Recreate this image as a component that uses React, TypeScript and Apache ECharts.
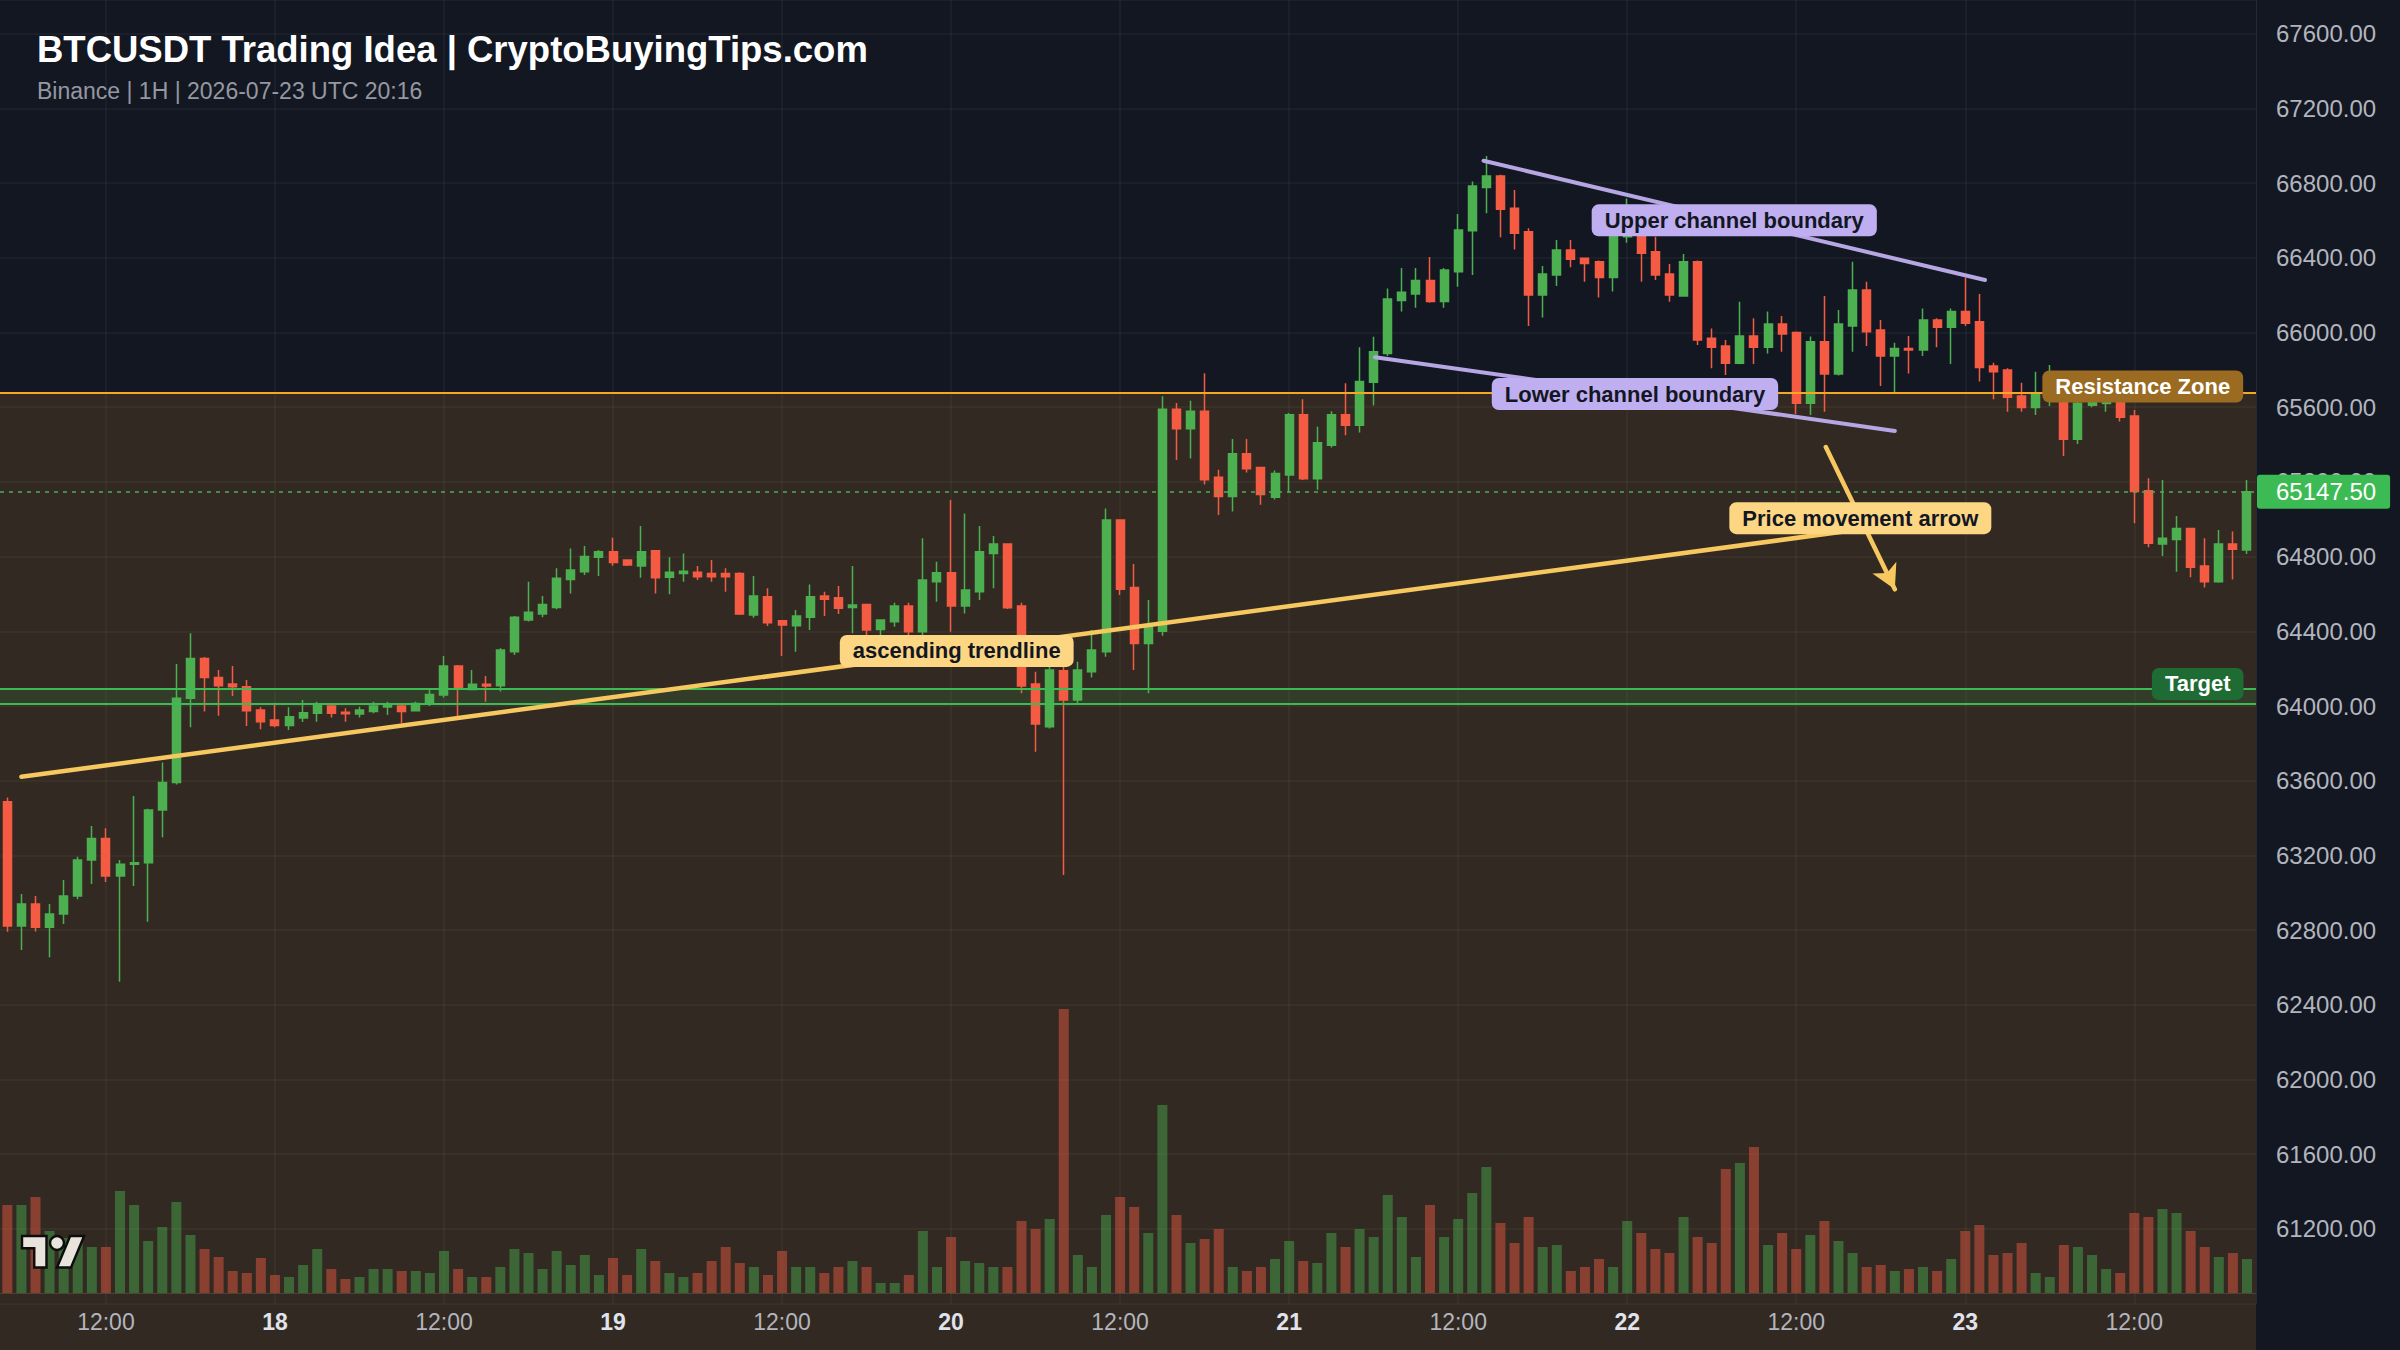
import React, { useEffect, useRef } from 'react';
import * as echarts from 'echarts';

// ---------- DATA ----------
// hours since 2026-07-17 00:00 UTC (1H candles, 17th 05:00 -> 23rd 20:00)
const hours = Array.from({ length: 160 }, (_, i) => 5 + i);

const open = [
  63487, 62822, 62940, 62815, 62886, 62982, 63175, 63291, 63090, 63152,
  63161, 63443, 63591, 64041, 64255, 64153, 64118, 64103, 63979, 63925,
  63896, 63936, 63961, 64000, 63966, 63957, 63970, 63995, 64000, 63975,
  64011, 64059, 64214, 64089, 64116, 64109, 64291, 64460, 64493, 64528,
  64678, 64719, 64796, 64826, 64782, 64750, 64832, 64689, 64710, 64716,
  64710, 64710, 64710, 64487, 64585, 64457, 64430, 64475, 64589, 64580,
  64528, 64544, 64410, 64451, 64535, 64398, 64666, 64714, 64535, 64612,
  64817, 64867, 64535, 64118, 63889, 64189, 64032, 64184, 64291, 64996,
  64635, 64335, 64400, 65589, 65484, 65579, 65225, 65122, 65351, 65277,
  65118, 65237, 65559, 65217, 65396, 65559, 65504, 65734, 65887, 66172,
  66206, 66279, 66166, 66326, 66545, 66777, 66838, 66665, 66540, 66201,
  66308, 66442, 66397, 66379, 66295, 66513, 66640, 66433, 66313, 66195,
  66379, 65969, 65928, 65835, 65981, 65921, 66045, 66000, 65621, 65951,
  65778, 66035, 66228, 66013, 65874, 65915, 65906, 66067, 66028, 66112,
  66058, 65821, 65799, 65660, 65599, 65660, 65650, 65428, 65610, 65620,
  65640, 65553, 65153, 64868, 64892, 64951, 64750, 64666, 64868, 64835,
];
const high = [
  63510, 62993, 62982, 62940, 63068, 63193, 63357, 63345, 63175, 63518,
  63450, 63697, 64225, 64389, 64262, 64193, 64214, 64139, 63993, 64018,
  63993, 64032, 64023, 64005, 63988, 63996, 64023, 64023, 64005, 64023,
  64095, 64268, 64220, 64193, 64161, 64309, 64482, 64666, 64589, 64737,
  64844, 64857, 64835, 64901, 64786, 64964, 64835, 64796, 64817, 64750,
  64782, 64737, 64716, 64696, 64630, 64460, 64514, 64651, 64612, 64642,
  64750, 64548, 64465, 64553, 64553, 64898, 64773, 65103, 65031, 64964,
  64910, 64872, 64553, 64184, 64219, 64210, 64237, 64407, 65058, 65000,
  64760, 64567, 65659, 65623, 65635, 65782, 65265, 65430, 65430, 65280,
  65261, 65569, 65643, 65496, 65579, 65728, 65921, 65977, 66235, 66345,
  66345, 66404, 66345, 66635, 66808, 66945, 66845, 66763, 66558, 66356,
  66495, 66495, 66400, 66385, 66540, 66718, 66660, 66513, 66367, 66420,
  66385, 66022, 65960, 66165, 66076, 66112, 66088, 66005, 65978, 66195,
  66120, 66379, 66272, 66067, 65945, 65981, 66129, 66076, 66129, 66295,
  66206, 65838, 65808, 65731, 65790, 65826, 65700, 65640, 65680, 65670,
  65700, 65585, 65219, 65210, 65017, 64955, 64898, 64942, 64934, 65210,
];
const low = [
  62791, 62694, 62792, 62654, 62833, 62965, 63047, 63057, 62524, 63036,
  62845, 63297, 63580, 63886, 63970, 63948, 64053, 63893, 63875, 63886,
  63872, 63914, 63916, 63939, 63916, 63939, 63961, 63952, 63907, 63970,
  64000, 64045, 63946, 64086, 64023, 64077, 64273, 64452, 64475, 64518,
  64603, 64701, 64696, 64751, 64750, 64687, 64603, 64598, 64666, 64675,
  64666, 64612, 64487, 64473, 64428, 64268, 64291, 64407, 64482, 64493,
  64389, 64380, 64371, 64425, 64371, 64371, 64558, 64398, 64496, 64567,
  64630, 64520, 64068, 63755, 63880, 63095, 64005, 64153, 64264, 64594,
  64193, 64068, 64376, 65317, 65325, 65186, 65023, 65042, 65251, 65078,
  65106, 65142, 65210, 65158, 65384, 65450, 65464, 65609, 65874, 66112,
  66132, 66160, 66132, 66245, 66308, 66638, 66510, 66445, 66035, 66081,
  66249, 66349, 66272, 66188, 66219, 66480, 66272, 66281, 66165, 66192,
  65933, 65808, 65773, 65830, 65831, 65888, 65897, 65564, 65558, 65576,
  65770, 65897, 65928, 65713, 65671, 65781, 65874, 65921, 65831, 66035,
  65737, 65642, 65576, 65576, 65558, 65607, 65339, 65403, 65600, 65576,
  65523, 64978, 64850, 64803, 64719, 64689, 64635, 64660, 64678, 64814,
];
const close = [
  62822, 62940, 62815, 62886, 62982, 63175, 63291, 63090, 63152, 63161,
  63443, 63591, 64041, 64255, 64153, 64109, 64103, 63975, 63916, 63896,
  63943, 63964, 64009, 63961, 63958, 63979, 64000, 64005, 63970, 64014,
  64062, 64214, 64098, 64116, 64107, 64300, 64475, 64502, 64544, 64684,
  64728, 64800, 64826, 64769, 64755, 64826, 64687, 64716, 64721, 64692,
  64692, 64692, 64492, 64589, 64446, 64434, 64482, 64585, 64571, 64523,
  64541, 64407, 64460, 64535, 64398, 64675, 64714, 64535, 64621, 64826,
  64867, 64526, 64107, 63903, 64193, 64032, 64193, 64300, 64996, 64625,
  64335, 64425, 65589, 65484, 65579, 65211, 65122, 65351, 65271, 65132,
  65245, 65559, 65217, 65410, 65559, 65504, 65738, 65897, 66180, 66216,
  66279, 66166, 66335, 66549, 66784, 66838, 66660, 66531, 66201, 66313,
  66442, 66392, 66370, 66295, 66513, 66640, 66424, 66308, 66201, 66379,
  65960, 65921, 65835, 65981, 65921, 66045, 65992, 65621, 65951, 65778,
  66045, 66228, 66004, 65874, 65915, 65906, 66067, 66028, 66112, 66049,
  65813, 65790, 65653, 65599, 65678, 65690, 65428, 65621, 65635, 65640,
  65546, 65148, 64871, 64898, 64951, 64743, 64666, 64868, 64839, 65147.5,
];
const volume = [
  440, 440, 480, 310, 275, 250, 230, 230, 510, 440,
  260, 330, 455, 290, 220, 180, 110, 100, 175, 90,
  80, 140, 220, 120, 70, 80, 120, 120, 110, 110,
  100, 210, 120, 80, 80, 130, 220, 200, 120, 210,
  140, 190, 90, 175, 90, 220, 160, 100, 80, 100,
  160, 230, 150, 130, 90, 210, 130, 130, 100, 130,
  160, 130, 50, 50, 90, 310, 130, 280, 160, 150,
  130, 130, 360, 320, 370, 1420, 190, 130, 390, 480,
  430, 300, 940, 390, 250, 270, 320, 130, 110, 130,
  170, 260, 160, 150, 300, 230, 320, 280, 490, 380,
  180, 440, 280, 370, 500, 630, 350, 250, 380, 230,
  240, 110, 130, 170, 130, 360, 300, 220, 200, 380,
  280, 250, 620, 650, 730, 240, 300, 220, 290, 360,
  260, 200, 130, 140, 110, 120, 130, 110, 170, 310,
  340, 190, 200, 250, 100, 80, 240, 230, 190, 120,
  100, 400, 380, 420, 400, 310, 230, 180, 200, 170,
];

const xTickHours = [12, 24, 36, 48, 60, 72, 84, 96, 108, 120, 132, 144, 156];
const xTickLabels = ['12:00', '18', '12:00', '19', '12:00', '20', '12:00', '21', '12:00', '22', '12:00', '23', '12:00'];

const resistanceLevel = 65680;
const targetZone = [64010, 64090];
const lastPrice = 65147.5;

const trendline = [[6.0, 63621], [138.8, 64969]];
const priceArrow = [[134.1, 65387], [139.0, 64625]];
const upperChannel = [[109.8, 66920], [145.4, 66281]];
const lowerChannel = [[102.1, 65868], [139.0, 65473]];
const resistanceLabelAt = [156.6, 65711];
const targetLabelAt = [160.5, 64118];

const TITLE = 'BTCUSDT Trading Idea | CryptoBuyingTips.com';
const SUBTITLE = 'Binance | 1H | 2026-07-23 UTC 20:16';

// ---------- STYLE ----------
const FONT = '"Liberation Sans", Arial, Helvetica, sans-serif';
const UP = '#4caf50';
const DOWN = '#f55b43';
const VOL_UP = 'rgba(76,175,80,0.45)';
const VOL_DOWN = 'rgba(245,91,67,0.45)';
const YELLOW = '#f7c85f';
const LAVENDER = '#b7a6e4';
const X_MIN = 4.48;
const X_MAX = 164.64;
const P_MIN = 60800;
const P_MAX = 67780.5;

const mid = (seg: number[][]) => [(seg[0][0] + seg[1][0]) / 2, (seg[0][1] + seg[1][1]) / 2];

echarts.graphic.registerShape(
  'tvlogo',
  echarts.graphic.extendPath('M14 22H7V11H0V4h14v18zM28 22h-8l7.5-18h8L28 22zM16 8a4 4 0 1 0 8 0a4 4 0 1 0 -8 0z', {})
);

export default function App() {
  const ref = useRef<HTMLDivElement>(null);
  useEffect(() => {
    if (!ref.current) return;
    const chart = echarts.init(ref.current, null, { renderer: 'svg' });

    const noteStyle = (bg: string, fg: string) => ({
      show: true,
      position: 'inside',
      backgroundColor: bg,
      color: fg,
      opacity: 1,
      fontSize: 22,
      fontWeight: 'bold',
      fontFamily: FONT,
      padding: [5, 13, 5, 13],
      borderRadius: 7,
    });

    const notes = [
      { value: mid(trendline), label: { ...noteStyle('#fdd684', '#121722'), formatter: 'ascending trendline' } },
      { value: mid(priceArrow), label: { ...noteStyle('#fdd684', '#121722'), formatter: 'Price movement arrow' } },
      { value: mid(upperChannel), label: { ...noteStyle('#bfaef0', '#121722'), formatter: 'Upper channel boundary' } },
      { value: mid(lowerChannel), label: { ...noteStyle('#bfaef0', '#121722'), formatter: 'Lower channel boundary' } },
      { value: resistanceLabelAt, label: { ...noteStyle('#9b6b22', '#ffffff'), formatter: 'Resistance Zone' } },
      { value: targetLabelAt, label: { ...noteStyle('#1f6b34', '#ffffff'), formatter: 'Target' } },
    ];

    const segLine = (seg: number[][], color: string, width: number, arrow = false) => [
      { coord: seg[0], lineStyle: { color, width, type: 'solid', cap: 'round', opacity: 1 }, symbol: 'none' },
      arrow ? { coord: seg[1], symbol: 'arrow', symbolSize: [20, 24] } : { coord: seg[1], symbol: 'none' },
    ];

    const option: any = {
      animation: false,
      backgroundColor: '#131722',
      textStyle: { fontFamily: FONT },
      grid: [
        { left: 0, right: 144, top: 0, bottom: 46.4 },
        { left: 0, right: 144, top: 993, bottom: 57 },
      ],
      xAxis: [
        {
          type: 'value', gridIndex: 0, min: X_MIN, max: X_MAX,
          axisLine: { show: false },
          axisTick: { show: false, customValues: xTickHours },
          axisLabel: { show: false, customValues: xTickHours },
          splitLine: { show: true, lineStyle: { color: 'rgba(255,255,255,0.05)', width: 1.5 } },
        },
        {
          type: 'value', gridIndex: 1, min: X_MIN, max: X_MAX,
          axisLine: { show: true, lineStyle: { color: 'rgba(255,255,255,0.12)', width: 1 } },
          axisTick: { show: false, customValues: xTickHours },
          axisLabel: {
            show: true,
            customValues: xTickHours,
            color: '#b2b5be',
            fontSize: 23,
            fontFamily: FONT,
            margin: 17,
            formatter: (v: number) => {
              const k = xTickHours.indexOf(Math.round(v));
              if (k < 0) return '';
              const t = xTickLabels[k];
              return t.indexOf(':') >= 0 ? t : `{d|${t}}`;
            },
            rich: { d: { fontWeight: 'bold', color: '#e0e3eb', fontSize: 23, fontFamily: FONT } },
          },
          splitLine: { show: false },
        },
      ],
      yAxis: [
        {
          type: 'value', gridIndex: 0, position: 'right', min: P_MIN, max: P_MAX, interval: 400,
          axisLine: { show: true, lineStyle: { color: 'rgba(255,255,255,0.08)' } },
          axisTick: { show: false },
          axisLabel: {
            color: '#b2b5be', fontSize: 24, fontFamily: FONT, margin: 20,
            formatter: (v: number) => v.toFixed(2),
            showMinLabel: false, showMaxLabel: false,
          },
          splitLine: { show: true, lineStyle: { color: 'rgba(255,255,255,0.05)', width: 1.5 } },
        },
        { type: 'value', gridIndex: 1, min: 0, max: 1500, show: false, splitLine: { show: false } },
      ],
      graphic: [
        {
          type: 'rect', z: -1, silent: true,
          shape: { x: 0, y: 1303.6, width: 2256, height: 50 },
          style: { fill: 'rgba(245,166,35,0.137)' },
        },
        {
          type: 'text', x: 37, y: 49, z: 20,
          style: { text: TITLE, fill: '#ffffff', fontSize: 36.5, fontWeight: 'bold', fontFamily: FONT, verticalAlign: 'middle' },
        },
        {
          type: 'text', x: 37, y: 91, z: 20,
          style: { text: SUBTITLE, fill: '#9598a1', fontSize: 23, fontFamily: FONT, verticalAlign: 'middle' },
        },
        {
          type: 'tvlogo', x: 22, y: 1229, scaleX: 1.75, scaleY: 1.75, z: 20,
          style: { fill: '#e8e4dc', stroke: '#0d0d0d', lineWidth: 1.4 },
        },
      ],
      series: [
        {
          type: 'candlestick',
          xAxisIndex: 0, yAxisIndex: 0,
          clip: false,
          barWidth: 8.5,
          data: hours.map((h, i) => [h, open[i], close[i], low[i], high[i]]),
          itemStyle: { color: UP, color0: DOWN, borderColor: UP, borderColor0: DOWN, borderWidth: 1.5 },
          markArea: {
            silent: true,
            data: [
              [{ yAxis: resistanceLevel, itemStyle: { color: 'rgba(245,166,35,0.137)' } }, { yAxis: P_MIN }],
              [{ yAxis: targetZone[1], itemStyle: { color: 'rgba(60,186,84,0.13)' } }, { yAxis: targetZone[0] }],
            ],
          },
          markLine: {
            silent: true,
            symbol: ['none', 'none'],
            label: { show: false },
            data: [
              { yAxis: resistanceLevel, lineStyle: { color: '#f5a623', width: 2, type: 'solid' } },
              { yAxis: targetZone[1], lineStyle: { color: '#3cba54', width: 2, type: 'solid' } },
              { yAxis: targetZone[0], lineStyle: { color: '#3cba54', width: 2, type: 'solid' } },
              {
                yAxis: lastPrice,
                lineStyle: { color: '#4caf50', width: 1.5, type: [4, 5] },
                label: {
                  show: true, position: 'end', distance: 1,
                  formatter: lastPrice.toFixed(2),
                  color: '#ffffff', fontSize: 24, fontFamily: FONT,
                  backgroundColor: '#3cba54', padding: [5, 14, 5, 19], borderRadius: 3,
                },
              },
              segLine(trendline, YELLOW, 4.5),
              segLine(priceArrow, YELLOW, 4.5, true),
              segLine(upperChannel, LAVENDER, 4),
              segLine(lowerChannel, LAVENDER, 4),
            ],
          },
        },
        {
          type: 'bar',
          xAxisIndex: 1, yAxisIndex: 1,
          barWidth: 10,
          data: hours.map((h, i) => ({
            value: [h, volume[i]],
            itemStyle: { color: close[i] >= open[i] ? VOL_UP : VOL_DOWN },
          })),
        },
        {
          type: 'scatter',
          xAxisIndex: 0, yAxisIndex: 0,
          symbol: 'circle', symbolSize: 1,
          itemStyle: { color: 'rgba(0,0,0,0)', opacity: 1 },
          silent: true,
          z: 10,
          zlevel: 0,
          clip: false,
          data: notes,
        },
      ],
    };

    chart.setOption(option);
    return () => chart.dispose();
  }, []);

  return <div ref={ref} style={{ position: 'fixed', left: 0, top: 0, width: 2400, height: 1350 }} />;
}
